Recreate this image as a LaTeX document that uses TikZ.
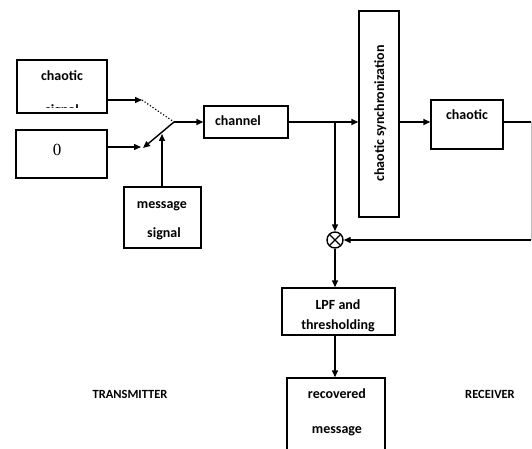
\documentclass[tikz,border=0pt]{standalone}
\usepackage{fontspec}
\setmainfont{Carlito}
\newfontfamily\serifzero{Liberation Serif}
\usetikzlibrary{arrows.meta}
\begin{document}
\begin{tikzpicture}[x=1pt,y=-1pt,
  box/.style={draw,line width=1.4pt,inner sep=0pt},
  lbl/.style={font=\fontsize{14}{16}\selectfont\bfseries,inner sep=0pt,anchor=base},
  side/.style={font=\fontsize{12.5}{14}\selectfont\bfseries,inner sep=0pt,anchor=base},
  conn/.style={line width=1.4pt},
  arr/.style={conn,-{Triangle[length=7pt,width=6pt]}},
]
\useasboundingbox (0,0) rectangle (532,449);

% boxes
\node[box,minimum width=90pt,minimum height=53pt] (txc) at (62,86.5) {};
\node[box,minimum width=91pt,minimum height=48pt] (zero) at (61.5,154) {};
\node[box,minimum width=77pt,minimum height=61pt] (msg) at (162.5,217.5) {};
\node[box,minimum width=84pt,minimum height=32pt] (chan) at (246,122) {};
\node[box,minimum width=40pt,minimum height=206pt] (sync) at (379,114) {};
\node[box,minimum width=72pt,minimum height=49pt] (rxc) at (467,124.5) {};
\node[box,minimum width=113pt,minimum height=47pt] (lpf) at (338.5,311.5) {};
\node[box,minimum width=98pt,minimum height=92pt] (rec) at (336,424) {};
\node[circle,draw,line width=1.4pt,minimum size=16pt,inner sep=0pt,
  path picture={\draw[line width=1.2pt]
    (path picture bounding box.north west)--(path picture bounding box.south east)
    (path picture bounding box.north east)--(path picture bounding box.south west);}]
  (mul) at (335,240) {};

% labels
\node[lbl] (t1) at (62,81) {chaotic};
\begin{scope}
  \clip (18,61) rectangle (106,107.5);
  \node[lbl] (t1b) at (62,115) {signal};
\end{scope}
\node[font=\fontsize{17}{19}\selectfont\serifzero,inner sep=0pt] (t0) at (57,150) {0};
\node[lbl] (m1) at (162,208) {message};
\node[lbl] (m2) at (164,237) {signal};
\node[lbl] (ch) at (238,126) {channel};
\node[lbl,rotate=90] (sy) at (384,113.5) {chaotic synchronization};
\node[lbl] (rc) at (467,120) {chaotic};
\node[lbl] (l1) at (338,309) {LPF and};
\node[lbl] (l2) at (338,329) {thresholding};
\node[lbl] (r1) at (337,398) {recovered};
\node[lbl] (r2) at (337,433) {message};
\node[side] (tx) at (130,398) {TRANSMITTER};
\node[side] (rx) at (490,398) {RECEIVER};

% switch
\coordinate (sw1) at (142,100);
\coordinate (piv) at (174,122);
\coordinate (sw0) at (141,147);
\coordinate (swtip) at (143,148);
\coordinate (msgtop) at (162,134);
\draw[arr] (txc.east |- sw1) -- (sw1);
\draw[line width=1.2pt,dotted] (sw1) -- (piv);
\draw[arr] (zero.east |- sw0) -- (sw0);
\draw[arr] (piv) -- (swtip);
\draw[arr] (msg.north -| msgtop) -- (msgtop);
\draw[arr] (piv) -- (chan.west);

% receiver
\coordinate (br) at (335,122);
\coordinate (rt) at (531,122);
\coordinate (rb) at (531,240);
\draw[arr] (chan.east) -- (chan.east -| sync.west);
\draw[arr] (br) -- (mul.north);
\draw[arr] (sync.east |- br) -- (rxc.west |- br);
\draw[conn] (rxc.east |- br) -- (rt);
\draw[gray!50,line width=0.8pt] (rt) -- (rb);
\draw[arr] (rb) -- (mul.east);
\draw[arr] (mul.south) -- (mul.south |- lpf.north);
\draw[arr] (lpf.south -| mul) -- (rec.north -| mul);
\end{tikzpicture}
\end{document}
